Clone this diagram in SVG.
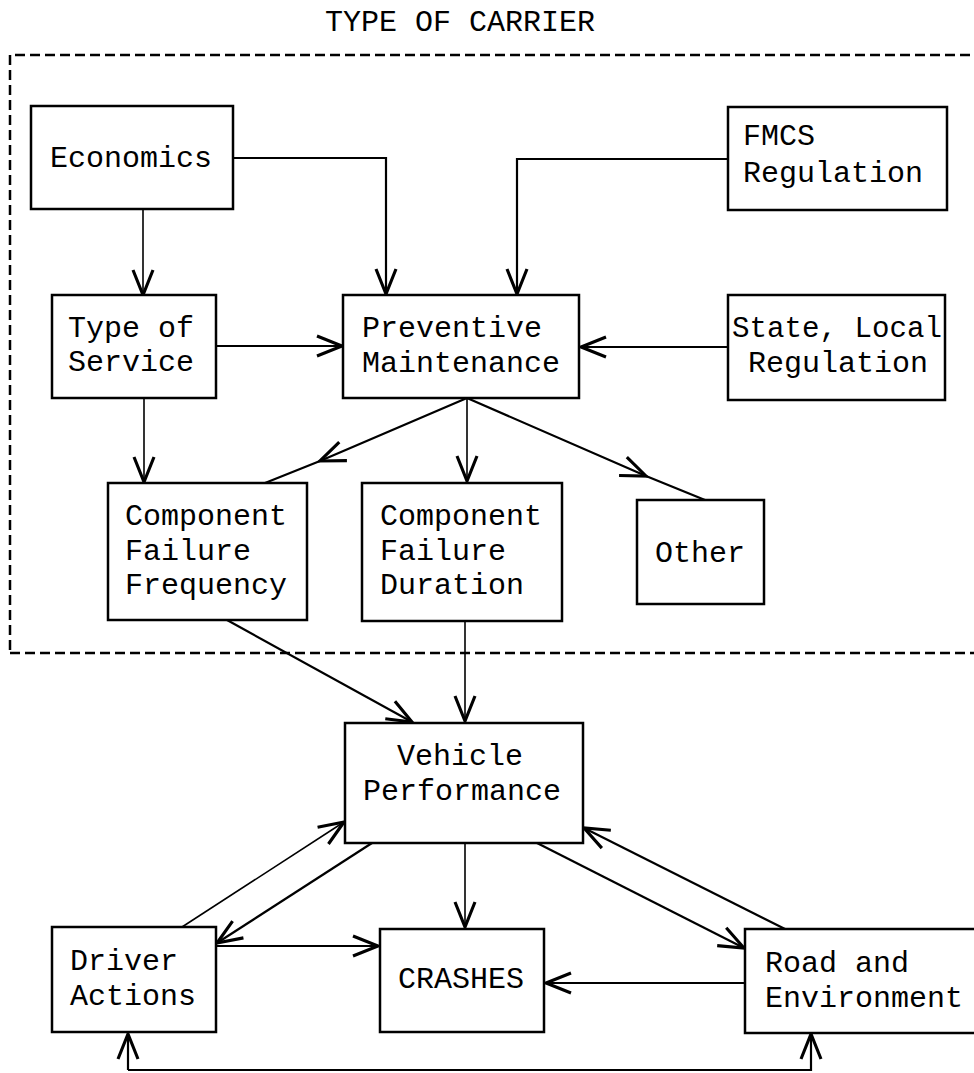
<svg xmlns="http://www.w3.org/2000/svg" width="974" height="1073" viewBox="0 0 974 1073">
<style>
.bx{fill:#fff;stroke:#000;stroke-width:2.5}
.t{font-family:"Liberation Mono","Courier New",monospace;font-size:30px;fill:#000}
.c{fill:none;stroke:#000;stroke-width:2.2}
.th{fill:none;stroke:#000;stroke-width:1.6}
.dash{fill:none;stroke:#000;stroke-width:2.5;stroke-dasharray:10 5}
</style>
<defs>
<marker id="ah" markerUnits="userSpaceOnUse" markerWidth="30" markerHeight="30" viewBox="-22 -10 24 20" refX="0" refY="0" orient="auto" overflow="visible">
<path d="M-20,-8 L0,0 L-20,8" fill="none" stroke="#000" stroke-width="2.5" stroke-linejoin="miter"/>
</marker>
</defs>
<rect width="974" height="1073" fill="#fff"/>
<text class="t" x="460" y="31" text-anchor="middle">TYPE OF CARRIER</text>
<g id="carrier-boundary">
<path class="dash" d="M15,55 H974 M10,55 V653 M10,653 H974"/>
</g>
<g id="connectors">
<path class="c" d="M233,158 H386 V294" marker-end="url(#ah)"/>
<path class="c" d="M728,159 H517 V294" marker-end="url(#ah)"/>
<path class="th" d="M143,209 V295" marker-end="url(#ah)"/>
<path class="c" d="M216,346 H342" marker-end="url(#ah)"/>
<path class="c" d="M728,347 H581" marker-end="url(#ah)"/>
<path class="th" d="M144,398 V482" marker-end="url(#ah)"/>
<path class="c" d="M467,398 L320,461 L265,483" marker-mid="url(#ah)"/>
<path class="th" d="M467,398 V481" marker-end="url(#ah)"/>
<path class="c" d="M467,398 L646,476 L705,500" marker-mid="url(#ah)"/>
<path class="c" d="M227,620 L412,722" marker-end="url(#ah)"/>
<path class="th" d="M465,621 V721" marker-end="url(#ah)"/>
<path class="th" d="M182,927 L344,822" marker-end="url(#ah)"/>
<path class="c" d="M372,843 L217,943" marker-end="url(#ah)"/>
<path class="th" d="M465,843 V927" marker-end="url(#ah)"/>
<path class="c" d="M216,946 H378" marker-end="url(#ah)"/>
<path class="c" d="M745,983 H546" marker-end="url(#ah)"/>
<path class="c" d="M537,843 L744,948" marker-end="url(#ah)"/>
<path class="c" d="M785,929 L584,828" marker-end="url(#ah)"/>
<path class="c" d="M128,1070 H811 V1034" marker-end="url(#ah)"/>
<path class="c" d="M128,1070 V1034" marker-end="url(#ah)"/>
</g>
<g id="economics">
<rect class="bx" x="31" y="106" width="202" height="103"/>
<text class="t" x="50" y="167">Economics</text>
</g>
<g id="fmcs-regulation">
<rect class="bx" x="728" y="107" width="219" height="103"/>
<text class="t" x="743" y="145">FMCS</text>
<text class="t" x="743" y="182">Regulation</text>
</g>
<g id="type-of-service">
<rect class="bx" x="52" y="295" width="164" height="103"/>
<text class="t" x="68" y="337">Type of</text>
<text class="t" x="68" y="371">Service</text>
</g>
<g id="preventive-maintenance">
<rect class="bx" x="343" y="295" width="236" height="103"/>
<text class="t" x="362" y="337">Preventive</text>
<text class="t" x="362" y="372">Maintenance</text>
</g>
<g id="state-local-regulation">
<rect class="bx" x="728" y="295" width="217" height="105"/>
<text class="t" x="732" y="337" textLength="210" lengthAdjust="spacingAndGlyphs">State, Local</text>
<text class="t" x="748" y="372">Regulation</text>
</g>
<g id="component-failure-frequency">
<rect class="bx" x="108" y="483" width="199" height="137"/>
<text class="t" x="125" y="525">Component</text>
<text class="t" x="125" y="560">Failure</text>
<text class="t" x="125" y="594">Frequency</text>
</g>
<g id="component-failure-duration">
<rect class="bx" x="362" y="483" width="200" height="138"/>
<text class="t" x="380" y="525">Component</text>
<text class="t" x="380" y="560">Failure</text>
<text class="t" x="380" y="594">Duration</text>
</g>
<g id="other">
<rect class="bx" x="637" y="500" width="127" height="104"/>
<text class="t" x="700" y="562" text-anchor="middle">Other</text>
</g>
<g id="vehicle-performance">
<rect class="bx" x="345" y="723" width="238" height="120"/>
<text class="t" x="397" y="765">Vehicle</text>
<text class="t" x="363" y="800">Performance</text>
</g>
<g id="driver-actions">
<rect class="bx" x="52" y="927" width="164" height="105"/>
<text class="t" x="70" y="970">Driver</text>
<text class="t" x="70" y="1005">Actions</text>
</g>
<g id="crashes">
<rect class="bx" x="380" y="929" width="164" height="103"/>
<text class="t" x="398" y="988">CRASHES</text>
</g>
<g id="road-and-environment">
<rect class="bx" x="745" y="929" width="240" height="104"/>
<text class="t" x="765" y="972">Road and</text>
<text class="t" x="765" y="1007">Environment</text>
</g>
</svg>
